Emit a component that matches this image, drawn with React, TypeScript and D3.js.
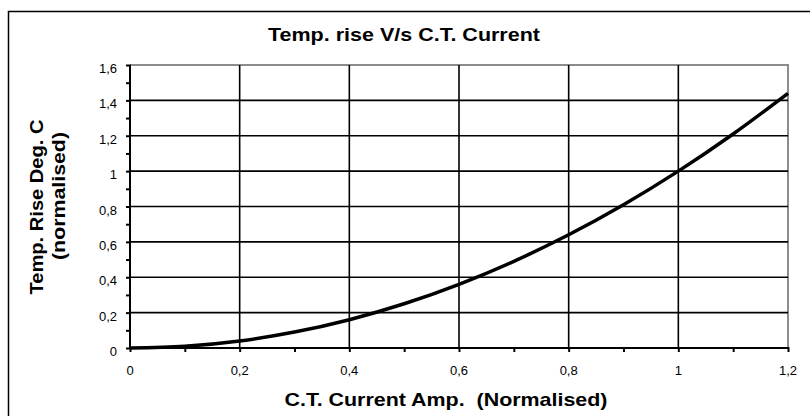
import { useEffect, useRef } from 'react';
import * as d3 from 'd3';

// values
const currentAmp = [0, 0.1, 0.2, 0.3, 0.4, 0.5, 0.6, 0.7, 0.8, 0.9, 1.0, 1.1, 1.2];
const tempRise = [0, 0.01, 0.04, 0.09, 0.16, 0.25, 0.36, 0.49, 0.64, 0.81, 1.0, 1.21, 1.44];

const xTicks = [0, 0.2, 0.4, 0.6, 0.8, 1, 1.2];
const yTicks = [0, 0.2, 0.4, 0.6, 0.8, 1, 1.2, 1.4, 1.6];

const chartTitle = 'Temp. rise V/s C.T. Current';
const xTitle = 'C.T. Current Amp.  (Normalised)';
const yTitle = ['Temp. Rise Deg. C', '(normalised)'];

const App = () => {
  const ref = useRef<SVGSVGElement>(null);

  useEffect(() => {
    const width = 810;
    const height = 416;
    const margin = { top: 65, right: 22, bottom: 68, left: 130 };
    const font = '"Liberation Sans", Arial, sans-serif';

    const svg = d3.select(ref.current);
    svg.selectAll('*').remove();

    // outer frame (right and bottom fall outside the picture)
    svg.append('rect')
      .attr('x', 8.5).attr('y', 11.5)
      .attr('width', 830).attr('height', 430)
      .attr('fill', 'white')
      .attr('stroke', '#000').attr('stroke-width', 1.5);

    const x = d3.scaleLinear().domain([0, 1.2]).range([margin.left, width - margin.right]);
    const y = d3.scaleLinear().domain([0, 1.6]).range([height - margin.bottom, margin.top]);

    const g = svg.append('g');

    // top / right plot border in grey
    g.append('path')
      .attr('d', `M${x(0)},${y(1.6)}H${x(1.2)}V${y(0)}`)
      .attr('fill', 'none')
      .attr('stroke', '#8c8c8c').attr('stroke-width', 2);

    // grid
    g.selectAll('.hgrid')
      .data(yTicks.filter(d => d > 0 && d < 1.6))
      .enter().append('line')
      .attr('x1', x(0)).attr('x2', x(1.2))
      .attr('y1', d => y(d)).attr('y2', d => y(d))
      .attr('stroke', '#000').attr('stroke-width', 1.6);

    g.selectAll('.vgrid')
      .data(xTicks.filter(d => d > 0 && d < 1.2))
      .enter().append('line')
      .attr('y1', y(0)).attr('y2', y(1.6))
      .attr('x1', d => x(d)).attr('x2', d => x(d))
      .attr('stroke', '#000').attr('stroke-width', 1.6);

    // axes: minor ticks every 0.1
    const yAxis = d3.axisLeft(y)
      .tickValues(d3.range(0, 1.61, 0.1))
      .tickSize(4)
      .tickFormat(() => '');
    g.append('g')
      .attr('transform', `translate(${x(0)},0)`)
      .call(yAxis)
      .call(s => s.select('.domain').remove())
      .call(s => s.selectAll('line').attr('stroke-width', 2).attr('x2', -4).attr('x1', 1));

    const xAxis = d3.axisBottom(x)
      .tickValues(d3.range(0, 1.21, 0.1))
      .tickSize(4)
      .tickFormat(() => '');
    g.append('g')
      .attr('transform', `translate(0,${y(0)})`)
      .call(xAxis)
      .call(s => s.select('.domain').remove())
      .call(s => s.selectAll('line').attr('stroke-width', 2).attr('y1', -1));

    g.append('line')
      .attr('x1', x(0)).attr('x2', x(0))
      .attr('y1', y(0)).attr('y2', y(1.6))
      .attr('stroke', '#000').attr('stroke-width', 2);
    g.append('line')
      .attr('x1', x(0)).attr('x2', x(1.2))
      .attr('y1', y(0)).attr('y2', y(0))
      .attr('stroke', '#000').attr('stroke-width', 2);

    const fmt = (d: number) => String(+d.toFixed(1)).replace('.', ',');

    g.selectAll('.ylab')
      .data(yTicks)
      .enter().append('text')
      .attr('x', 117)
      .attr('y', d => y(d) + 8)
      .attr('text-anchor', 'end')
      .attr('font-family', font).attr('font-size', 13)
      .text(fmt);

    g.selectAll('.xlab')
      .data(xTicks)
      .enter().append('text')
      .attr('x', d => x(d))
      .attr('y', y(0) + 27)
      .attr('text-anchor', 'middle')
      .attr('font-family', font).attr('font-size', 13)
      .text(fmt);

    // curve
    const line = d3.line<number>()
      .x((_, i) => x(currentAmp[i]))
      .y(d => y(d))
      .curve(d3.curveCatmullRom);
    g.append('path')
      .datum(tempRise)
      .attr('d', line)
      .attr('fill', 'none')
      .attr('stroke', '#000')
      .attr('stroke-width', 3.5);

    // titles
    svg.append('text')
      .attr('x', 404).attr('y', 41)
      .attr('text-anchor', 'middle')
      .attr('font-family', font).attr('font-size', 18).attr('font-weight', 'bold')
      .attr('textLength', 272).attr('lengthAdjust', 'spacingAndGlyphs')
      .text(chartTitle);

    svg.append('text')
      .attr('x', 446).attr('y', 406)
      .attr('text-anchor', 'middle')
      .attr('font-family', font).attr('font-size', 19).attr('font-weight', 'bold')
      .attr('textLength', 323).attr('lengthAdjust', 'spacingAndGlyphs')
      .style('white-space', 'pre')
      .text(xTitle);

    svg.append('text')
      .attr('transform', `translate(43,207) rotate(-90)`)
      .attr('text-anchor', 'middle')
      .attr('font-family', font).attr('font-size', 18).attr('font-weight', 'bold')
      .attr('textLength', 175).attr('lengthAdjust', 'spacingAndGlyphs')
      .text(yTitle[0]);
    svg.append('text')
      .attr('transform', `translate(65,196) rotate(-90)`)
      .attr('text-anchor', 'middle')
      .attr('font-family', font).attr('font-size', 18).attr('font-weight', 'bold')
      .attr('textLength', 128).attr('lengthAdjust', 'spacingAndGlyphs')
      .text(yTitle[1]);
  }, []);

  return (
    <svg
      ref={ref}
      width={810}
      height={416}
      style={{ position: 'absolute', left: 0, top: 0, display: 'block', background: '#fff' }}
    />
  );
};

export default App;
